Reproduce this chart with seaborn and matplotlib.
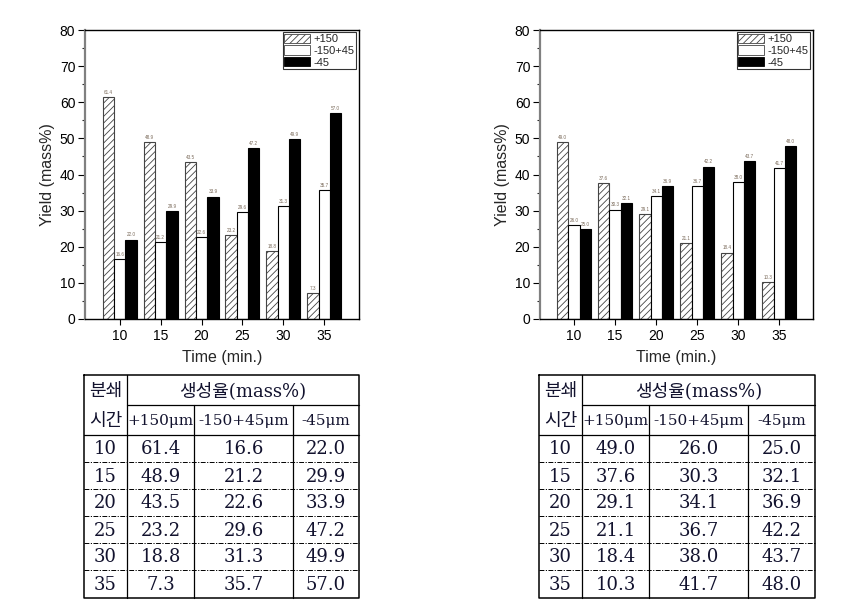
import numpy as np
import pandas as pd
import matplotlib
matplotlib.use("Agg")
import matplotlib.pyplot as plt
import seaborn as sns
from matplotlib.patches import Patch
from matplotlib.ticker import MultipleLocator

# ---------------- data ----------------
times = ['10', '15', '20', '25', '30', '35']
fractions = ['+150', '-150+45', '-45']

left_p150 = [61.4, 48.9, 43.5, 23.2, 18.8, 7.3]
left_mid = [16.6, 21.2, 22.6, 29.6, 31.3, 35.7]
left_m45 = [22.0, 29.9, 33.9, 47.2, 49.9, 57.0]

right_p150 = [49.0, 37.6, 29.1, 21.1, 18.4, 10.3]
right_mid = [26.0, 30.3, 34.1, 36.7, 38.0, 41.7]
right_m45 = [25.0, 32.1, 36.9, 42.2, 43.7, 48.0]

table_head_col0 = ['분쇄', '시간']
table_head_span = '생성율(mass%)'
table_sub_heads = ['+150μm', '-150+45μm', '-45μm']

x_label = 'Time (min.)'
y_label = 'Yield (mass%)'

# ---------------- style ----------------
sns.set_theme(style='white')
plt.rcParams['font.family'] = ['Liberation Sans', 'DejaVu Sans']
plt.rcParams['hatch.linewidth'] = 0.6
plt.rcParams['hatch.color'] = '#444444'

W, H = 857, 607
fig = plt.figure(figsize=(W / 100, H / 100), dpi=100)


def px_axes(x0, y0, x1, y1):
    return fig.add_axes([x0 / W, 1 - y1 / H, (x1 - x0) / W, (y1 - y0) / H])


def make_df(a, b, c):
    rows = []
    for name, vals in zip(fractions, [a, b, c]):
        for t, v in zip(times, vals):
            rows.append({'time': t, 'fraction': name, 'value': v})
    return pd.DataFrame(rows)


def draw_chart(ax, a, b, c, xlim, legend_anchor):
    df = make_df(a, b, c)
    sns.barplot(data=df, x='time', y='value', hue='fraction', order=times,
                hue_order=fractions, palette=['white', 'white', 'black'],
                saturation=1, edgecolor='black', linewidth=0.8, width=0.83,
                legend=False, errorbar=None, ax=ax)
    for p in ax.containers[0].patches:
        p.set_hatch('/////')
        p.set_edgecolor('#444444')
    for cont in ax.containers:
        ax.bar_label(cont, fmt='%.1f', fontsize=3.3, color='#7a6a5a', padding=1.5)
    ax.set_ylim(0, 80)
    ax.set_xlim(*xlim)
    ax.yaxis.set_major_locator(MultipleLocator(10))
    ax.yaxis.set_minor_locator(MultipleLocator(5))
    ax.tick_params(axis='y', which='major', direction='out', length=5, width=0.8,
                   labelsize=10, left=True, pad=2, colors='black')
    ax.tick_params(axis='y', which='minor', direction='out', length=2.5, width=0.8, left=True)
    ax.tick_params(axis='x', which='major', direction='out', length=4.5, width=0.8,
                   labelsize=10, bottom=True, pad=3, colors='black')
    ax.set_xlabel(x_label, fontsize=11.5, labelpad=5)
    ax.set_ylabel(y_label, fontsize=11.5, labelpad=3)
    for s in ['top', 'right', 'bottom']:
        ax.spines[s].set_color('black')
        ax.spines[s].set_linewidth(1.0)
    ax.spines['left'].set_color('#808080')
    ax.spines['left'].set_linewidth(1.6)
    handles = [Patch(facecolor='white', edgecolor='#444444', hatch='/////', linewidth=0.6),
               Patch(facecolor='white', edgecolor='#444444', linewidth=0.6),
               Patch(facecolor='black', edgecolor='black', linewidth=0.6)]
    leg = ax.legend(handles=handles, labels=fractions, loc='upper right',
                    bbox_to_anchor=legend_anchor, borderaxespad=0, fontsize=8,
                    frameon=True, fancybox=False, edgecolor='black',
                    handlelength=2.3, handleheight=0.9, labelspacing=0.12,
                    handletextpad=0.3, borderpad=0.15)
    leg.get_frame().set_linewidth(0.8)


axL = px_axes(85, 30, 359, 319)
draw_chart(axL, left_p150, left_mid, left_m45, (-0.85, 5.85),
           (1 - 3 / 274, 1 - 2 / 289))
axR = px_axes(540, 30, 813, 319)
draw_chart(axR, right_p150, right_mid, right_m45, (-0.83, 5.82),
           (1 - 3 / 273, 1 - 2 / 289))

# ---------------- tables ----------------
axT = fig.add_axes([0, 0, 1, 1])
axT.set_xlim(0, W)
axT.set_ylim(H, 0)
axT.axis('off')

ys = [375, 405, 435, 462, 489, 516, 543, 570, 598]
tcolor = '#12122e'
serif_fam = ['DejaVu Serif', 'Noto Sans CJK KR']


def draw_table(xs, a, b, c):
    k = 'black'
    axT.plot([xs[0], xs[-1], xs[-1], xs[0], xs[0]],
             [ys[0], ys[0], ys[-1], ys[-1], ys[0]], color=k, lw=1.1)
    axT.plot([xs[1], xs[1]], [ys[0], ys[-1]], color=k, lw=0.9)
    for xv in xs[2:4]:
        axT.plot([xv, xv], [ys[1], ys[-1]], color=k, lw=0.9)
    axT.plot([xs[1], xs[-1]], [ys[1], ys[1]], color=k, lw=0.9)
    axT.plot([xs[0], xs[-1]], [ys[2], ys[2]], color=k, lw=0.9)
    for yv in ys[3:-1]:
        axT.plot([xs[0], xs[-1]], [yv, yv], color=k, lw=0.7,
                 linestyle=(0, (5, 1.5, 1.2, 1.5)))
    cx = [(xs[i] + xs[i + 1]) / 2 for i in range(4)]
    cy = [(ys[i] + ys[i + 1]) / 2 for i in range(len(ys) - 1)]
    axT.text(cx[0], cy[0] + 1, table_head_col0[0], ha='center', va='center',
             fontsize=13, family=['Noto Sans CJK KR'], color=tcolor)
    axT.text(cx[0], cy[1] + 1, table_head_col0[1], ha='center', va='center',
             fontsize=13, family=['Noto Sans CJK KR'], color=tcolor)
    axT.text((xs[1] + xs[-1]) / 2, cy[0] + 1, table_head_span, ha='center',
             va='center', fontsize=13, family=serif_fam, color=tcolor)
    for j, h in enumerate(table_sub_heads):
        axT.text(cx[j + 1], cy[1] + 1, h, ha='center', va='center',
                 fontsize=11, family=serif_fam, color=tcolor)
    for i, t in enumerate(times):
        y = cy[i + 2] + 1
        axT.text(cx[0], y, t, ha='center', va='center', fontsize=13,
                 family=serif_fam, color=tcolor)
        for j, vals in enumerate([a, b, c]):
            axT.text(cx[j + 1], y, f'{vals[i]:.1f}', ha='center', va='center',
                     fontsize=13, family=serif_fam, color=tcolor)


draw_table([84, 127, 194, 293, 359], left_p150, left_mid, left_m45)
draw_table([539, 582, 649, 748, 815], right_p150, right_mid, right_m45)

fig.savefig('out.png', dpi=100)
